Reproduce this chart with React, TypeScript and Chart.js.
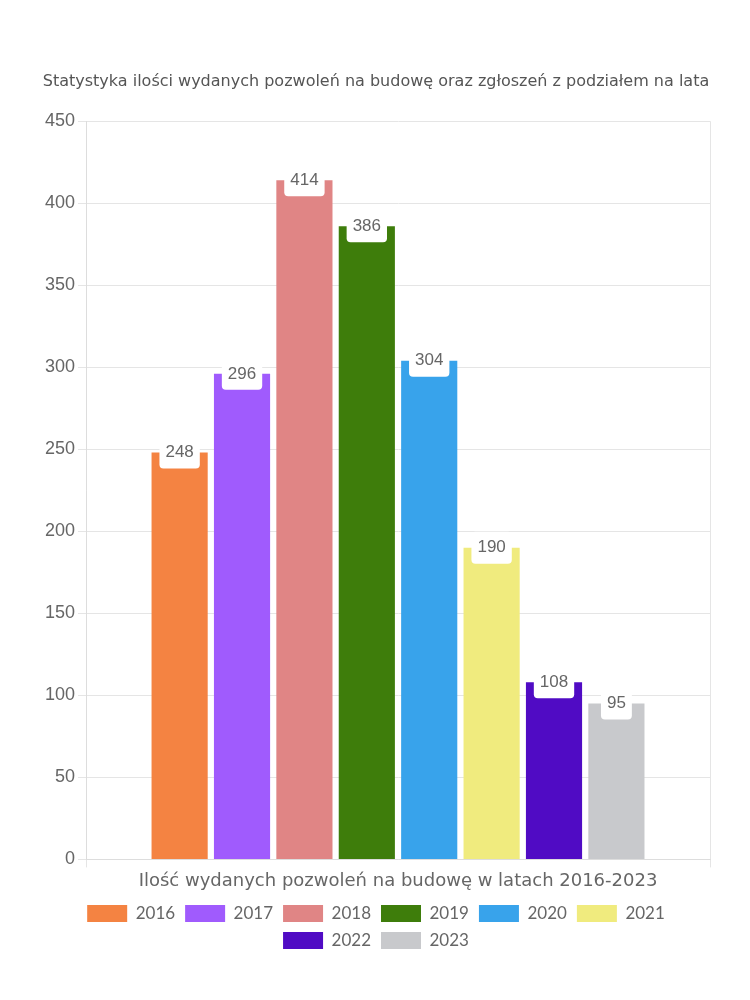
import React, { useEffect, useRef } from "react";
import { Chart, registerables } from "chart.js";

Chart.register(...registerables);

const category = ["Ilość wydanych pozwoleń na budowę w latach 2016-2023"];
const years = ["2016", "2017", "2018", "2019", "2020", "2021", "2022", "2023"];
const values = [248, 296, 414, 386, 304, 190, 108, 95];
const colors = ["#F48342", "#A05BFD", "#E08585", "#3E7D0B", "#38A3EB", "#F0EB7E", "#500BC4", "#C8C9CC"];
const titleText = "Statystyka ilości wydanych pozwoleń na budowę oraz zgłoszeń z podziałem na lata";

const labelFont = "17px 'Liberation Sans', Arial, sans-serif";
const roundFont = "Lato, 'Noto Sans', sans-serif";
const wideFont = "'DejaVu Sans', sans-serif";

const valueLabels = {
  id: "valueLabels",
  afterDatasetsDraw(chart: any) {
    const ctx = chart.ctx;
    ctx.save();
    ctx.font = labelFont;
    ctx.textAlign = "center";
    ctx.textBaseline = "middle";
    chart.data.datasets.forEach((ds: any, i: number) => {
      const meta = chart.getDatasetMeta(i);
      if (meta.hidden) return;
      meta.data.forEach((bar: any, j: number) => {
        const txt = String(ds.data[j]);
        const w = ctx.measureText(txt).width + 12;
        const h = 32;
        const x = bar.x;
        const y = bar.y;
        ctx.fillStyle = "#ffffff";
        ctx.beginPath();
        (ctx as any).roundRect(x - w / 2, y - h / 2, w, h, 4);
        ctx.fill();
        ctx.fillStyle = "#666666";
        ctx.fillText(txt, x, y);
      });
    });
    ctx.restore();
  },
};

export default function App() {
  const ref = useRef<HTMLCanvasElement>(null);
  useEffect(() => {
    if (!ref.current) return;
    const chart = new Chart(ref.current, {
      type: "bar",
      data: {
        labels: category,
        datasets: years.map((y, i) => ({
          label: y,
          data: [values[i]],
          backgroundColor: colors[i],
          borderWidth: 0,
        })),
      },
      options: {
        animation: false,
        responsive: true,
        maintainAspectRatio: false,
        layout: { padding: { top: 64, right: 32, bottom: 33, left: 34 } },
        plugins: {
          title: {
            display: true,
            text: titleText,
            color: "#555555",
            font: { family: wideFont, size: 16, weight: "normal" },
            padding: { top: 0, bottom: 30 },
          },
          legend: {
            position: "bottom",
            labels: {
              boxWidth: 40,
              boxHeight: 17,
              color: "#666666",
              font: { family: roundFont, size: 17 },
              padding: 10,
            },
          },
          tooltip: { enabled: false },
        },
        scales: {
          x: {
            grid: { color: "#e5e5e5", tickLength: 8 },
            border: { color: "#dddddd" },
            ticks: { color: "#666666", font: { family: wideFont, size: 18 } },
          },
          y: {
            min: 0,
            max: 450,
            ticks: {
              stepSize: 50,
              color: "#666666",
              font: { family: "'Liberation Sans', Arial, sans-serif", size: 18 },
            },
            grid: { color: "#e5e5e5", tickLength: 8 },
            border: { color: "#dddddd" },
          },
        },
      },
      plugins: [valueLabels],
    });
    return () => chart.destroy();
  }, []);
  return (
    <div style={{ width: 734, height: 984 }}>
      <canvas ref={ref} />
    </div>
  );
}
